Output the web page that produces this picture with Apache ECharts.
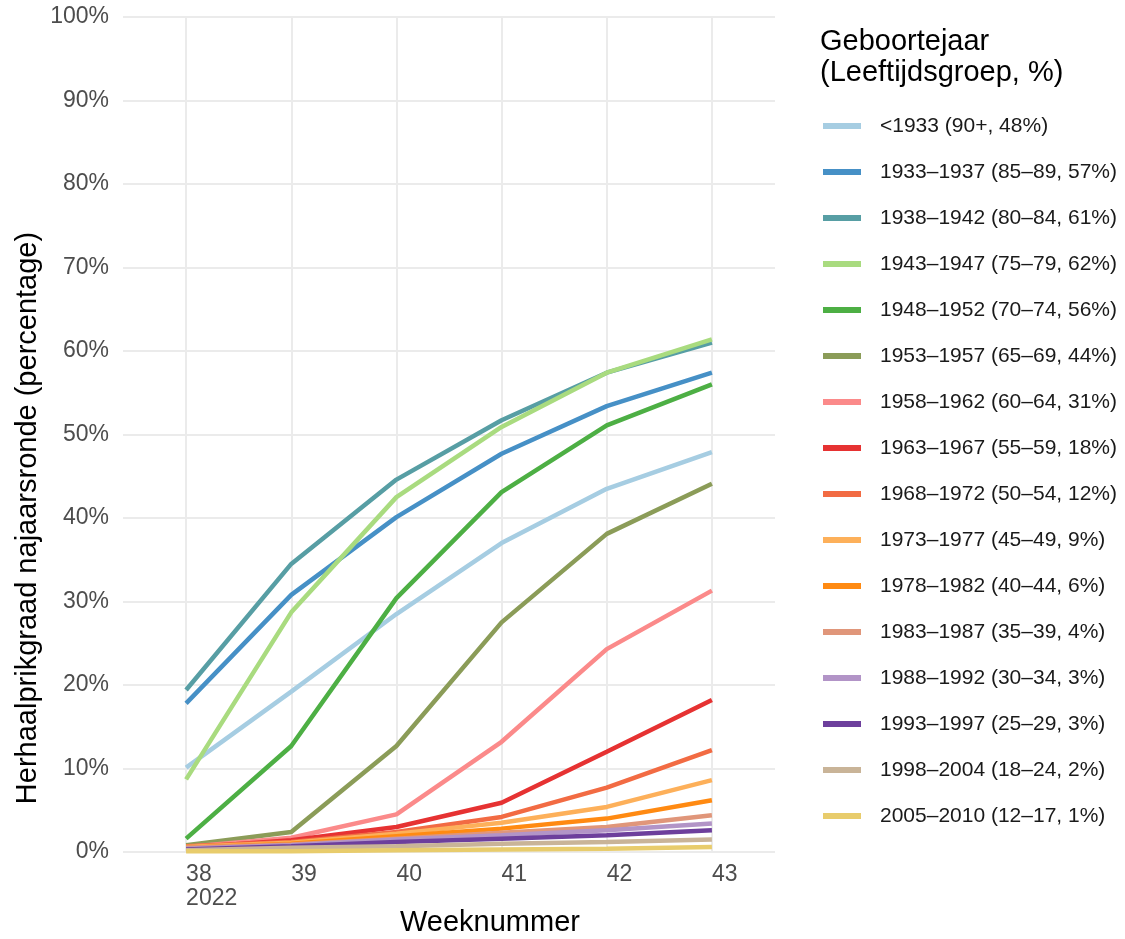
<!DOCTYPE html>
<html><head><meta charset="utf-8">
<script src="https://cdn.jsdelivr.net/npm/echarts@6/dist/echarts.min.js"></script>
<style>html,body{margin:0;padding:0;background:#fff}#c{width:1125px;height:939px}</style>
</head><body><div id="c"></div>
<script>
const weeks = [38, 39, 40, 41, 42, 43];
const yTicks = [0,10,20,30,40,50,60,70,80,90,100];
const names = [
 '<1933 (90+, 48%)','1933–1937 (85–89, 57%)','1938–1942 (80–84, 61%)','1943–1947 (75–79, 62%)',
 '1948–1952 (70–74, 56%)','1953–1957 (65–69, 44%)','1958–1962 (60–64, 31%)','1963–1967 (55–59, 18%)',
 '1968–1972 (50–54, 12%)','1973–1977 (45–49, 9%)','1978–1982 (40–44, 6%)','1983–1987 (35–39, 4%)',
 '1988–1992 (30–34, 3%)','1993–1997 (25–29, 3%)','1998–2004 (18–24, 2%)','2005–2010 (12–17, 1%)'
];
const s1933 = [10.1, 19.2, 28.5, 37.0, 43.5, 47.9];
const s1937 = [17.8, 30.8, 40.1, 47.7, 53.4, 57.4];
const s1942 = [19.4, 34.5, 44.6, 51.7, 57.4, 61.0];
const s1947 = [8.7, 28.7, 42.5, 50.9, 57.4, 61.4];
const s1952 = [1.6, 12.7, 30.4, 43.1, 51.1, 56.0];
const s1957 = [0.8, 2.4, 12.7, 27.5, 38.1, 44.1];
const s1962 = [0.6, 1.7, 4.5, 13.2, 24.3, 31.3];
const s1967 = [0.5, 1.4, 3.0, 5.9, 12.0, 18.2];
const s1972 = [0.7, 1.2, 2.4, 4.2, 7.7, 12.2];
const s1977 = [0.6, 1.1, 2.2, 3.5, 5.4, 8.6];
const s1982 = [0.5, 1.0, 1.9, 2.8, 4.0, 6.2];
const s1987 = [0.5, 0.9, 1.6, 2.3, 3.0, 4.4];
const s1992 = [0.4, 0.8, 1.5, 2.0, 2.6, 3.4];
const s1997 = [0.3, 0.7, 1.2, 1.6, 2.0, 2.6];
const s2004 = [0.2, 0.5, 0.7, 1.0, 1.2, 1.5];
const s2010 = [0.1, 0.1, 0.2, 0.3, 0.4, 0.6];
const values = [s1933,s1937,s1942,s1947,s1952,s1957,s1962,s1967,s1972,s1977,s1982,s1987,s1992,s1997,s2004,s2010];
const colors = ['#a6cde2','#4690c6','#579ea4','#a9db7f','#4daf44','#8b9c58','#fb8a8a','#e63232',
 '#f26b43','#fdb05a','#ff8a12','#e0967a','#b294c7','#6d3f9c','#c9b498','#e8cc6c'];

const FONT = 'Liberation Sans, Arial, sans-serif';
const chart = echarts.init(document.getElementById('c'));
chart.setOption({
  animation: false,
  textStyle: {fontFamily: FONT},
  grid: {left: 123, right: 350, top: 17, bottom: 87, outerBoundsMode: 'none', containLabel: false},
  title: {
    text: 'Geboortejaar\n(Leeftijdsgroep, %)', left: 820, top: 26, padding: 0,
    textStyle: {fontFamily: FONT, fontSize: 29, fontWeight: 'normal', color: '#000', lineHeight: 31}
  },
  legend: {
    orient: 'vertical', left: 823, top: 115, padding: 0,
    itemWidth: 38, itemHeight: 6, itemGap: 24, icon: 'rect',
    textStyle: {fontFamily: FONT, fontSize: 21, color: '#1a1a1a', lineHeight: 22, padding: [0,0,0,14]},
    data: names
  },
  graphic: [
    {type: 'text', left: 490 - 90, top: 908,
     style: {text: 'Weeknummer', font: '29px ' + FONT, fill: '#000'}},
    {type: 'text', x: 28, y: 518, rotation: Math.PI / 2,
     style: {text: 'Herhaalprikgraad najaarsronde (percentage)', font: '29px ' + FONT, fill: '#000',
       align: 'center', verticalAlign: 'middle'}}
  ],
  xAxis: {
    type: 'value', min: 37.4, max: 43.6,
    axisLine: {show: false}, axisTick: {show: false, customValues: weeks},
    axisLabel: {customValues: weeks, fontSize: 23, color: '#4d4d4d', margin: 11, lineHeight: 24, align: 'left',
      formatter: v => v === 38 ? '38\n2022' : String(v)},
    splitLine: {show: true, lineStyle: {color: '#ebebeb', width: 2}}
  },
  yAxis: {
    type: 'value', min: 0, max: 100, interval: 10,
    axisLine: {show: false}, axisTick: {show: false},
    axisLabel: {fontSize: 23, color: '#4d4d4d', margin: 14, formatter: v => yTicks.includes(v) ? v + '%' : ''},
    splitLine: {show: true, lineStyle: {color: '#ebebeb', width: 2}}
  },
  series: names.map((n, i) => ({
    name: n, type: 'line', showSymbol: false, symbol: 'none',
    color: colors[i],
    lineStyle: {width: 4.5, color: colors[i]},
    data: weeks.map((w, j) => [w, values[i][j]])
  }))
});
</script></body></html>
